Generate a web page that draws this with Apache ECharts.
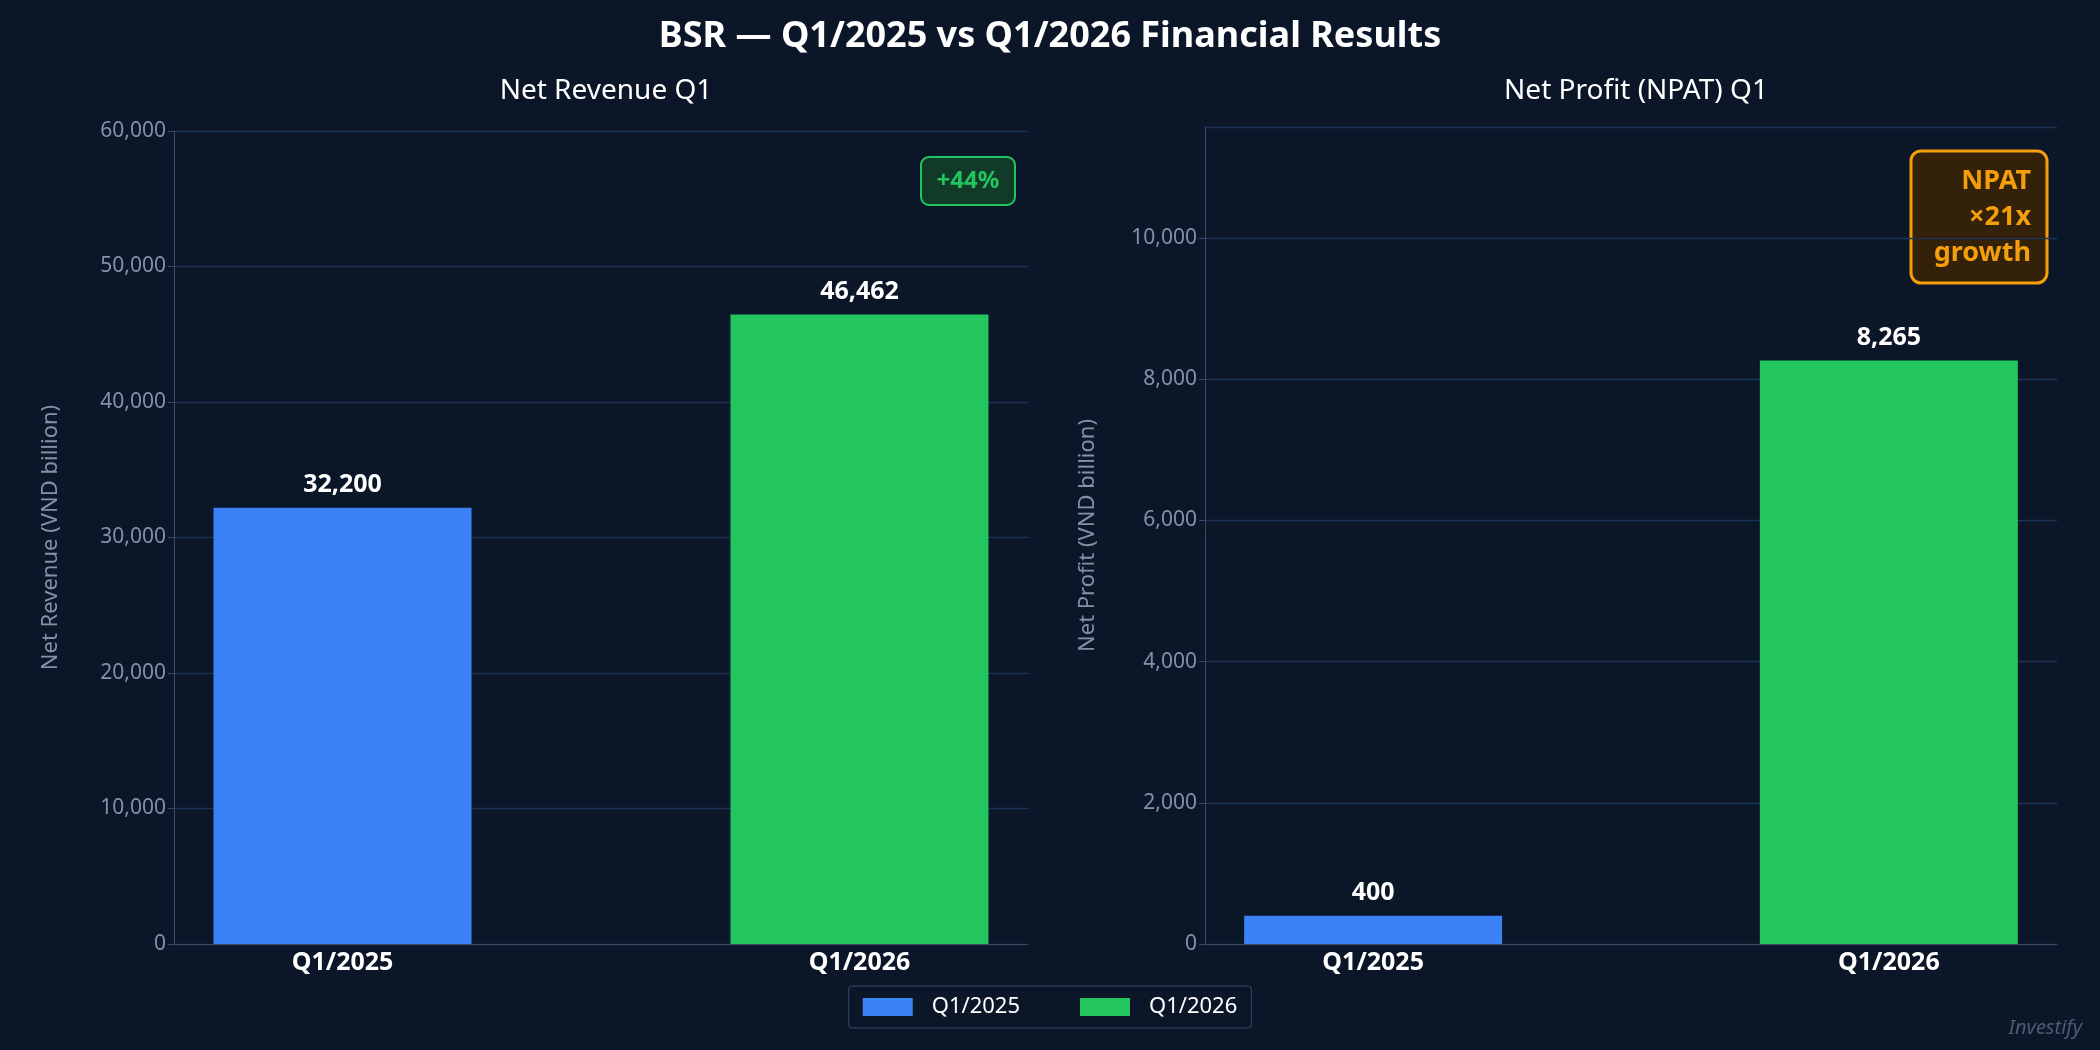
<!DOCTYPE html>
<html>
<head>
<meta charset="utf-8">
<script src="https://cdn.jsdelivr.net/npm/echarts@6/dist/echarts.min.js"></script>
<style>
  html, body { margin: 0; padding: 0; background: #0b1628; }
  #main { width: 2100px; height: 1050px; }
</style>
</head>
<body>
<div id="main"></div>
<script>
var categories = ['Q1/2025', 'Q1/2026'];
var revenue = [32200, 46462];
var profit = [400, 8265];
var revTicks = { min: 0, max: 60000, interval: 10000 };
var profTicks = { min: 0, max: 11570, interval: 2000 };

var chart = echarts.init(document.getElementById('main'));
var font = '"Noto Sans", "DejaVu Sans", sans-serif';
var blue = '#3b82f6', green = '#22c55e';

function axisY(name, t, grid) {
    return {
        type: 'value', gridIndex: grid, min: t.min, max: t.max, interval: t.interval,
        name: name, nameLocation: 'middle', nameGap: grid === 0 ? 112 : 106,
        nameTextStyle: { color: '#8391a7', fontSize: 22, fontFamily: font },
        axisLine: { show: true, onZero: false, lineStyle: { color: '#3a4a63' } },
        axisTick: { show: true, length: 6, lineStyle: { color: '#3a4a63' } },
        axisLabel: { color: '#8391a7', fontSize: 21, fontFamily: font,
            showMaxLabel: grid === 0,
            formatter: function (v) { return v.toLocaleString('en-US'); } },
        splitLine: { lineStyle: { color: '#1c3455', width: 1.3 } }
    };
}
function axisX(grid) {
    return {
        type: 'value', gridIndex: grid, min: -0.326, max: 1.326,
        axisLine: { onZero: false, lineStyle: { color: '#3a4a63' } },
        axisTick: { show: false },
        splitLine: { show: false },
        axisLabel: { customValues: [0, 1], color: '#ffffff', fontSize: 25, fontWeight: 'bold',
            fontFamily: font, margin: 6, formatter: function (v) { return categories[v]; } }
    };
}
function bars(vals, grid) {
    var lbl = { show: true, position: 'top', distance: 10, color: '#ffffff', fontSize: 25,
        fontWeight: 'bold', fontFamily: font,
        formatter: function (p) { return p.value[1].toLocaleString('en-US'); } };
    return [
        { name: categories[0], type: 'bar', xAxisIndex: grid, yAxisIndex: grid, barWidth: 258,
          barGap: '-100%', itemStyle: { color: blue }, label: lbl, data: [[0, vals[0]]] },
        { name: categories[1], type: 'bar', xAxisIndex: grid, yAxisIndex: grid, barWidth: 258,
          barGap: '-100%', itemStyle: { color: green }, label: lbl, data: [[1, vals[1]]] }
    ];
}

chart.setOption({
    backgroundColor: '#0b1628',
    animation: false,
    title: [
        { text: 'BSR — Q1/2025 vs Q1/2026 Financial Results', left: 'center', top: 14,
          textStyle: { color: '#ffffff', fontSize: 36, fontWeight: 'bold', fontFamily: font } },
        { text: 'Net Revenue Q1', left: 601, textAlign: 'center', top: 72,
          textStyle: { color: '#ffffff', fontSize: 28, fontWeight: 'normal', fontFamily: font } },
        { text: 'Net Profit (NPAT) Q1', left: 1631, textAlign: 'center', top: 72,
          textStyle: { color: '#ffffff', fontSize: 28, fontWeight: 'normal', fontFamily: font } }
    ],
    legend: {
        bottom: 22, left: 'center', icon: 'rect', itemWidth: 50, itemHeight: 18, itemGap: 60,
        backgroundColor: '#0b1628', borderColor: '#3a4a63', borderWidth: 1, borderRadius: 3,
        padding: [10, 14],
        textStyle: { color: '#ffffff', fontSize: 22, fontFamily: font, padding: [0, 0, 0, 14] },
        data: categories
    },
    grid: [
        { left: 174, right: 1072, top: 131, bottom: 106 },
        { left: 1205, right: 43, top: 127, bottom: 106 }
    ],
    xAxis: [axisX(0), axisX(1)],
    yAxis: [axisY('Net Revenue (VND billion)', revTicks, 0), axisY('Net Profit (VND billion)', profTicks, 1)],
    series: bars(revenue, 0).concat(bars(profit, 1)),
    graphic: [
        { type: 'rect', shape: { x: 921, y: 157, width: 94, height: 48, r: 8 },
          style: { fill: '#123a28', stroke: green, lineWidth: 2 } },
        { type: 'text', x: 968, y: 181, style: { text: '+44%', fill: green, fontSize: 24,
          fontWeight: 'bold', fontFamily: font, align: 'center', verticalAlign: 'middle' } },
        { type: 'rect', shape: { x: 1911, y: 151, width: 136, height: 132, r: 10 },
          style: { fill: '#33210a', stroke: '#f59e0b', lineWidth: 3 } },
        { type: 'text', x: 2031, y: 217, style: { text: 'NPAT\n×21x\ngrowth', fill: '#f59e0b',
          fontSize: 27, lineHeight: 36, fontWeight: 'bold', fontFamily: font,
          align: 'right', verticalAlign: 'middle' } },
        { type: 'text', right: 18, bottom: 12, style: { text: 'Investify', fill: '#4d5a70',
          fontSize: 20, fontStyle: 'italic', fontFamily: font } }
    ]
});
</script>
</body>
</html>
